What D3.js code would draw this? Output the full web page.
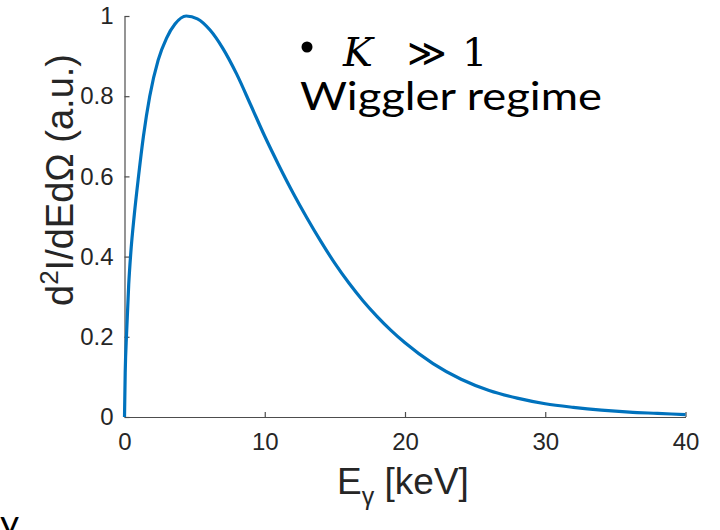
<!DOCTYPE html>
<html><head><meta charset="utf-8">
<script src="https://cdn.jsdelivr.net/npm/d3@7"></script>
<style>body{margin:0;background:#fff}svg{display:block}</style>
</head><body>
<svg id="c" width="720" height="530"></svg>
<script>
const energy = [0, 0.05, 0.15, 0.3, 0.45, 0.7, 1.0, 1.35, 1.8, 2.4, 3.0, 3.6, 4.4, 5.2, 6.1, 7.0, 8.0, 9.0, 10.0, 11.0, 12.0, 13.0, 14.0, 15.0, 16.0, 17.0, 18.0, 19.0, 20.0, 22.0, 24.0, 26.0, 28.0, 30.0, 32.0, 34.0, 36.0, 38.0, 40.0];
const intensity = [0, 0.11, 0.21, 0.33, 0.41, 0.505, 0.6, 0.7, 0.8, 0.89, 0.945, 0.98, 1.0, 0.993, 0.965, 0.92, 0.855, 0.778, 0.70, 0.628, 0.560, 0.497, 0.438, 0.383, 0.334, 0.290, 0.251, 0.216, 0.185, 0.133, 0.094, 0.066, 0.047, 0.033, 0.024, 0.017, 0.012, 0.009, 0.006];
const xTicks = [0, 10, 20, 30, 40];
const yTicks = [0, 0.2, 0.4, 0.6, 0.8, 1];

const svg = d3.select("#c");
const L = 124.5, R = 685.5, T = 16, B = 417;
const x = d3.scaleLinear().domain([0, 40]).range([L, R]);
const y = d3.scaleLinear().domain([0, 1]).range([B, T]);
const axisColor = "#4d4d4d", textColor = "#262626";

const gx = svg.append("g").attr("transform", `translate(0,${B})`)
  .call(d3.axisBottom(x).tickValues(xTicks).tickSizeInner(-5).tickSizeOuter(0).tickPadding(16).tickFormat(d3.format("d")));
const gy = svg.append("g").attr("transform", `translate(${L},0)`)
  .call(d3.axisLeft(y).tickValues(yTicks).tickSizeInner(-5).tickSizeOuter(0).tickPadding(11).tickFormat(d => d === 0 ? "0" : d === 1 ? "1" : d3.format(".1f")(d)));
[gx, gy].forEach(g => {
  g.select(".domain").attr("stroke", axisColor).attr("stroke-width", 1.2);
  g.selectAll(".tick line").attr("stroke", axisColor).attr("stroke-width", 1.2);
  g.selectAll(".tick text").attr("fill", textColor).attr("font-family", "Liberation Sans, Arial, sans-serif").attr("font-size", 24);
});

const line = d3.line().x((d, i) => x(energy[i])).y(d => y(d)).curve(d3.curveMonotoneX);
svg.append("path").datum(intensity).attr("d", line)
  .attr("fill", "none").attr("stroke", "#0072BD").attr("stroke-width", 3.2).attr("stroke-linejoin", "round");

// y label
const yl = svg.append("text").attr("transform", "translate(73,306) rotate(-90)")
  .attr("text-anchor", "start").attr("fill", textColor)
  .attr("font-family", "Liberation Sans, Arial, sans-serif").attr("font-size", 38);
yl.append("tspan").text("d");
yl.append("tspan").attr("font-size", 26).attr("dy", -15).text("2");
yl.append("tspan").attr("dy", 15).text("I/dEdΩ (a.u.)");

// x label
const xl = svg.append("text").attr("x", 403).attr("y", 494).attr("text-anchor", "middle")
  .attr("fill", textColor).attr("font-family", "Liberation Sans, Arial, sans-serif").attr("font-size", 37);
xl.append("tspan").text("E");
xl.append("tspan").attr("font-size", 25).attr("dy", 11).text("γ");
xl.append("tspan").attr("dy", -11).text(" [keV]");

// annotation
svg.append("circle").attr("cx", 307).attr("cy", 47).attr("r", 5.5).attr("fill", "#000");
svg.append("text").attr("x", 343).attr("y", 66).attr("font-family", "DejaVu Serif, Liberation Serif, serif")
  .attr("font-style", "italic").attr("font-size", 40).attr("fill", "#000").text("K");
svg.append("text").attr("x", 407).attr("y", 66).attr("font-family", "DejaVu Serif, Liberation Serif, serif")
  .attr("font-size", 38).attr("fill", "#000").text("≫");
svg.append("text").attr("x", 462).attr("y", 66).attr("font-family", "DejaVu Serif, Liberation Serif, serif")
  .attr("font-size", 40).attr("fill", "#000").text("1");
svg.append("text").attr("x", 300).attr("y", 110).attr("font-family", "Lato, Open Sans, sans-serif")
  .attr("font-size", 38).attr("fill", "#000").attr("textLength", 302).attr("lengthAdjust", "spacingAndGlyphs").text("Wiggler regime");
svg.append("text").attr("x", 0).attr("y", 536).attr("font-family", "Lato, Open Sans, sans-serif")
  .attr("font-size", 37).attr("fill", "#000").text("y");
</script>
</body></html>
